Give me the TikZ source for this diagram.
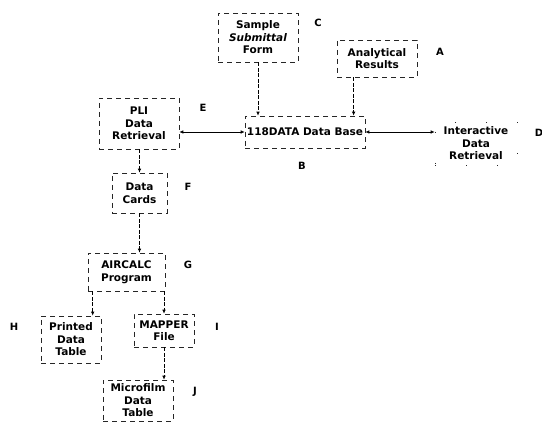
\documentclass[tikz,border=0pt]{standalone}
\usepackage{fontspec}
\newfontfamily\boxfont{DejaVu Sans}
\usetikzlibrary{arrows.meta,calc}
\begin{document}
\begin{tikzpicture}[x=1pt,y=-1pt,
  box/.style={draw=black!85, line width=0.6pt, dash pattern=on 5pt off 4pt,
    inner sep=1pt, align=center, font=\boxfont\bfseries\fontsize{10.5}{12.5}\selectfont},
  tag/.style={font=\boxfont\bfseries\fontsize{10}{11}\selectfont},
  arr/.style={line width=0.7pt, -{Latex[length=4pt,width=3.5pt]}},
  darr/.style={line width=0.7pt, {Latex[length=4pt,width=3.5pt]}-{Latex[length=4pt,width=3.5pt]}},
  varr/.style={arr, dash pattern=on 4pt off 1.5pt}]
\useasboundingbox[fill=white] (0,0) rectangle (542,422);
% boxes
\node[box, minimum width=80pt, minimum height=49pt] (C) at (258,37.5) {Sample\\\textit{Submittal}\\Form};
\node[box, minimum width=80pt, minimum height=37pt] (A) at (377,58.5) {Analytical\\Results};
\node[box, minimum width=120pt, minimum height=32pt] (B) at (305,132) {118DATA\ Data\ Base};
\node[box, minimum width=82pt, minimum height=43pt, dash pattern=on 1pt off 30pt] (D) at (476,143.5) {Interactive\\Data\\Retrieval};
\node[box, minimum width=80pt, minimum height=51pt] (E) at (139,123.5) {PLI\\Data\\Retrieval};
\node[box, minimum width=55pt, minimum height=40pt] (F) at (139.5,193) {Data\\Cards};
\node[box, minimum width=77pt, minimum height=38pt] (G) at (126.5,272) {AIRCALC\\Program};
\node[box, minimum width=60pt, minimum height=47pt] (H) at (71,339.5) {Printed\\Data\\Table};
\node[box, minimum width=60pt, minimum height=33pt] (I) at (164,330.5) {MAPPER\\File};
\node[box, minimum width=70pt, minimum height=41pt] (J) at (138,400.5) {Microfilm\\Data\\Table};
% letter tags
\node[tag] (tC) at (318,23) {C};
\node[tag] (tA) at (440,52) {A};
\node[tag] (tB) at (302,166) {B};
\node[tag] (tD) at (539,133) {D};
\node[tag] (tE) at (203,108) {E};
\node[tag] (tF) at (188,187) {F};
\node[tag] (tG) at (188,265) {G};
\node[tag] (tH) at (14,327) {H};
\node[tag] (tI) at (217,327) {I};
\node[tag] (tJ) at (195,392) {J};
% connectors
\draw[darr] (E.east |- B.west) -- (B.west);
\draw[darr] (B.east) -- (B.east -| D.west);
\draw[varr] (C.south) -- (C.south |- B.north);
\coordinate (a1) at ($(A.south west)!0.21!(A.south east)$);
\draw[varr] (a1) -- (a1 |- B.north);
\draw[varr] (F.north |- E.south) -- (F.north);
\draw[varr] (F.south) -- (F.south |- G.north);
\coordinate (g1) at ($(G.south west)+(5,0)$);
\draw[varr] (g1) -- (g1 |- H.north);
\draw[varr] (I.north |- G.south) -- (I.north);
\draw[varr] (I.south) -- (I.south |- J.north);
\end{tikzpicture}
\end{document}
